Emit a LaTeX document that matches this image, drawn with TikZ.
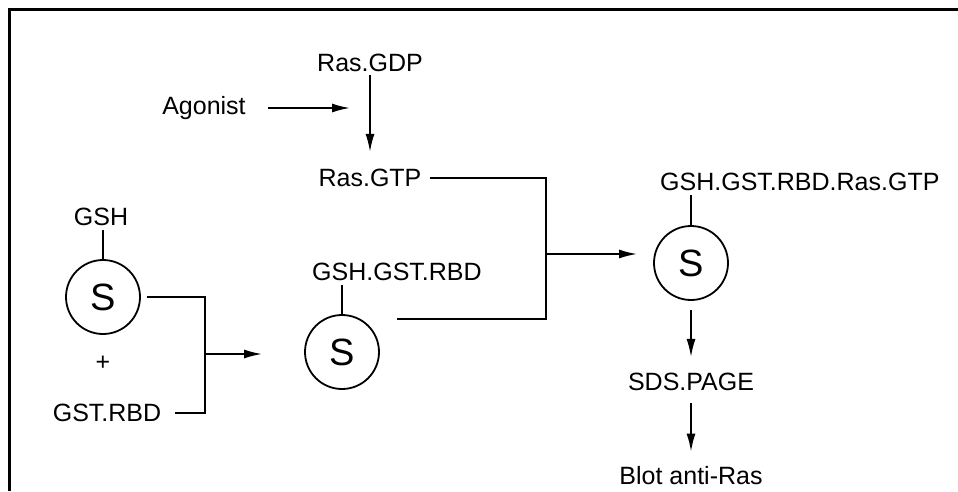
\documentclass[tikz,border=0pt]{standalone}
\usepackage{fontspec}
\setmainfont{Liberation Sans}
\usetikzlibrary{shapes,arrows.meta}
\tikzstyle{txt} = [inner sep=0pt, font=\fontsize{25}{30}\selectfont]
\tikzstyle{bead} = [circle, draw, line width=1.8pt, minimum size=74pt,
    inner sep=0pt, font=\fontsize{38}{40}\selectfont]
\tikzstyle{wire} = [draw, line width=1.8pt]
\tikzstyle{line} = [draw, line width=1.8pt, -{Latex[length=18pt,width=9pt]}]

\begin{document}
\begin{tikzpicture}[x=1pt, y=-1pt]
	\useasboundingbox (0,0) rectangle (958,491);
	\draw[line width=3pt] (9,491) -- (9,9) -- (958,9);

	% activation of Ras
	\node [txt] (gdp) at (370,63) {Ras.GDP};
	\node [txt, below of=gdp, node distance=115pt] (gtp) {Ras.GTP};
	\node [txt] (agonist) at (204,108) {Agonist};
	\coordinate (hit) at (350,108);

	\path [line, shorten <=3pt, shorten >=17pt] (gdp.south) -- (gtp.north);
	\path [line, shorten <=22pt] (agonist.east) -- (hit);

	% beads with GSH
	\node [txt] (gsh) at (101,217) {GSH};
	\node [bead] (s1) at (103,297) {S};
	\node [txt, below of=s1, node distance=66pt] (plus) {+};
	\node [txt] (gstrbd) at (107,413) {GST.RBD};
	\path [wire, shorten >=4pt] (s1.north) -- (s1.north |- gsh.south);

	% GSH.GST.RBD beads
	\node [bead] (s2) at (342,352) {S};
	\node [txt, anchor=west] (s2lab) at (312,272) {GSH.GST.RBD};
	\path [wire, shorten >=4pt] (s2.north) -- (s2.north |- s2lab.south);

	\coordinate (j1) at (205,354);
	\path [wire] ([xshift=6pt]s1.east) -| (j1) |- ([xshift=14pt]gstrbd.east);
	\path [line, shorten >=42pt] (j1) -- (j1 -| s2.west);

	% complex with Ras.GTP
	\node [bead] (s3) at (691,263) {S};
	\node [txt, anchor=west] (s3lab) at (660,182) {GSH.GST.RBD.Ras.GTP};
	\path [wire, shorten >=4pt] (s3.north) -- (s3.north |- s3lab.south);

	\coordinate (j2) at (546,254);
	\coordinate (s2out) at (397,319);
	\path [wire] ([xshift=8pt]gtp.east) -| (j2) |- (s2out);
	\path [line, shorten >=16pt] (j2) -- (j2 -| s3.west);

	% analysis
	\node [txt, below of=s3, node distance=119pt] (sds) {SDS.PAGE};
	\node [txt, below of=sds, node distance=94pt] (blot) {Blot anti-Ras};

	\path [line, shorten <=9pt, shorten >=16pt] (s3.south) -- (s3.south |- sds.north);
	\path [line, shorten <=12pt, shorten >=15pt] (sds.south) -- (blot.north);
\end{tikzpicture}
\end{document}
